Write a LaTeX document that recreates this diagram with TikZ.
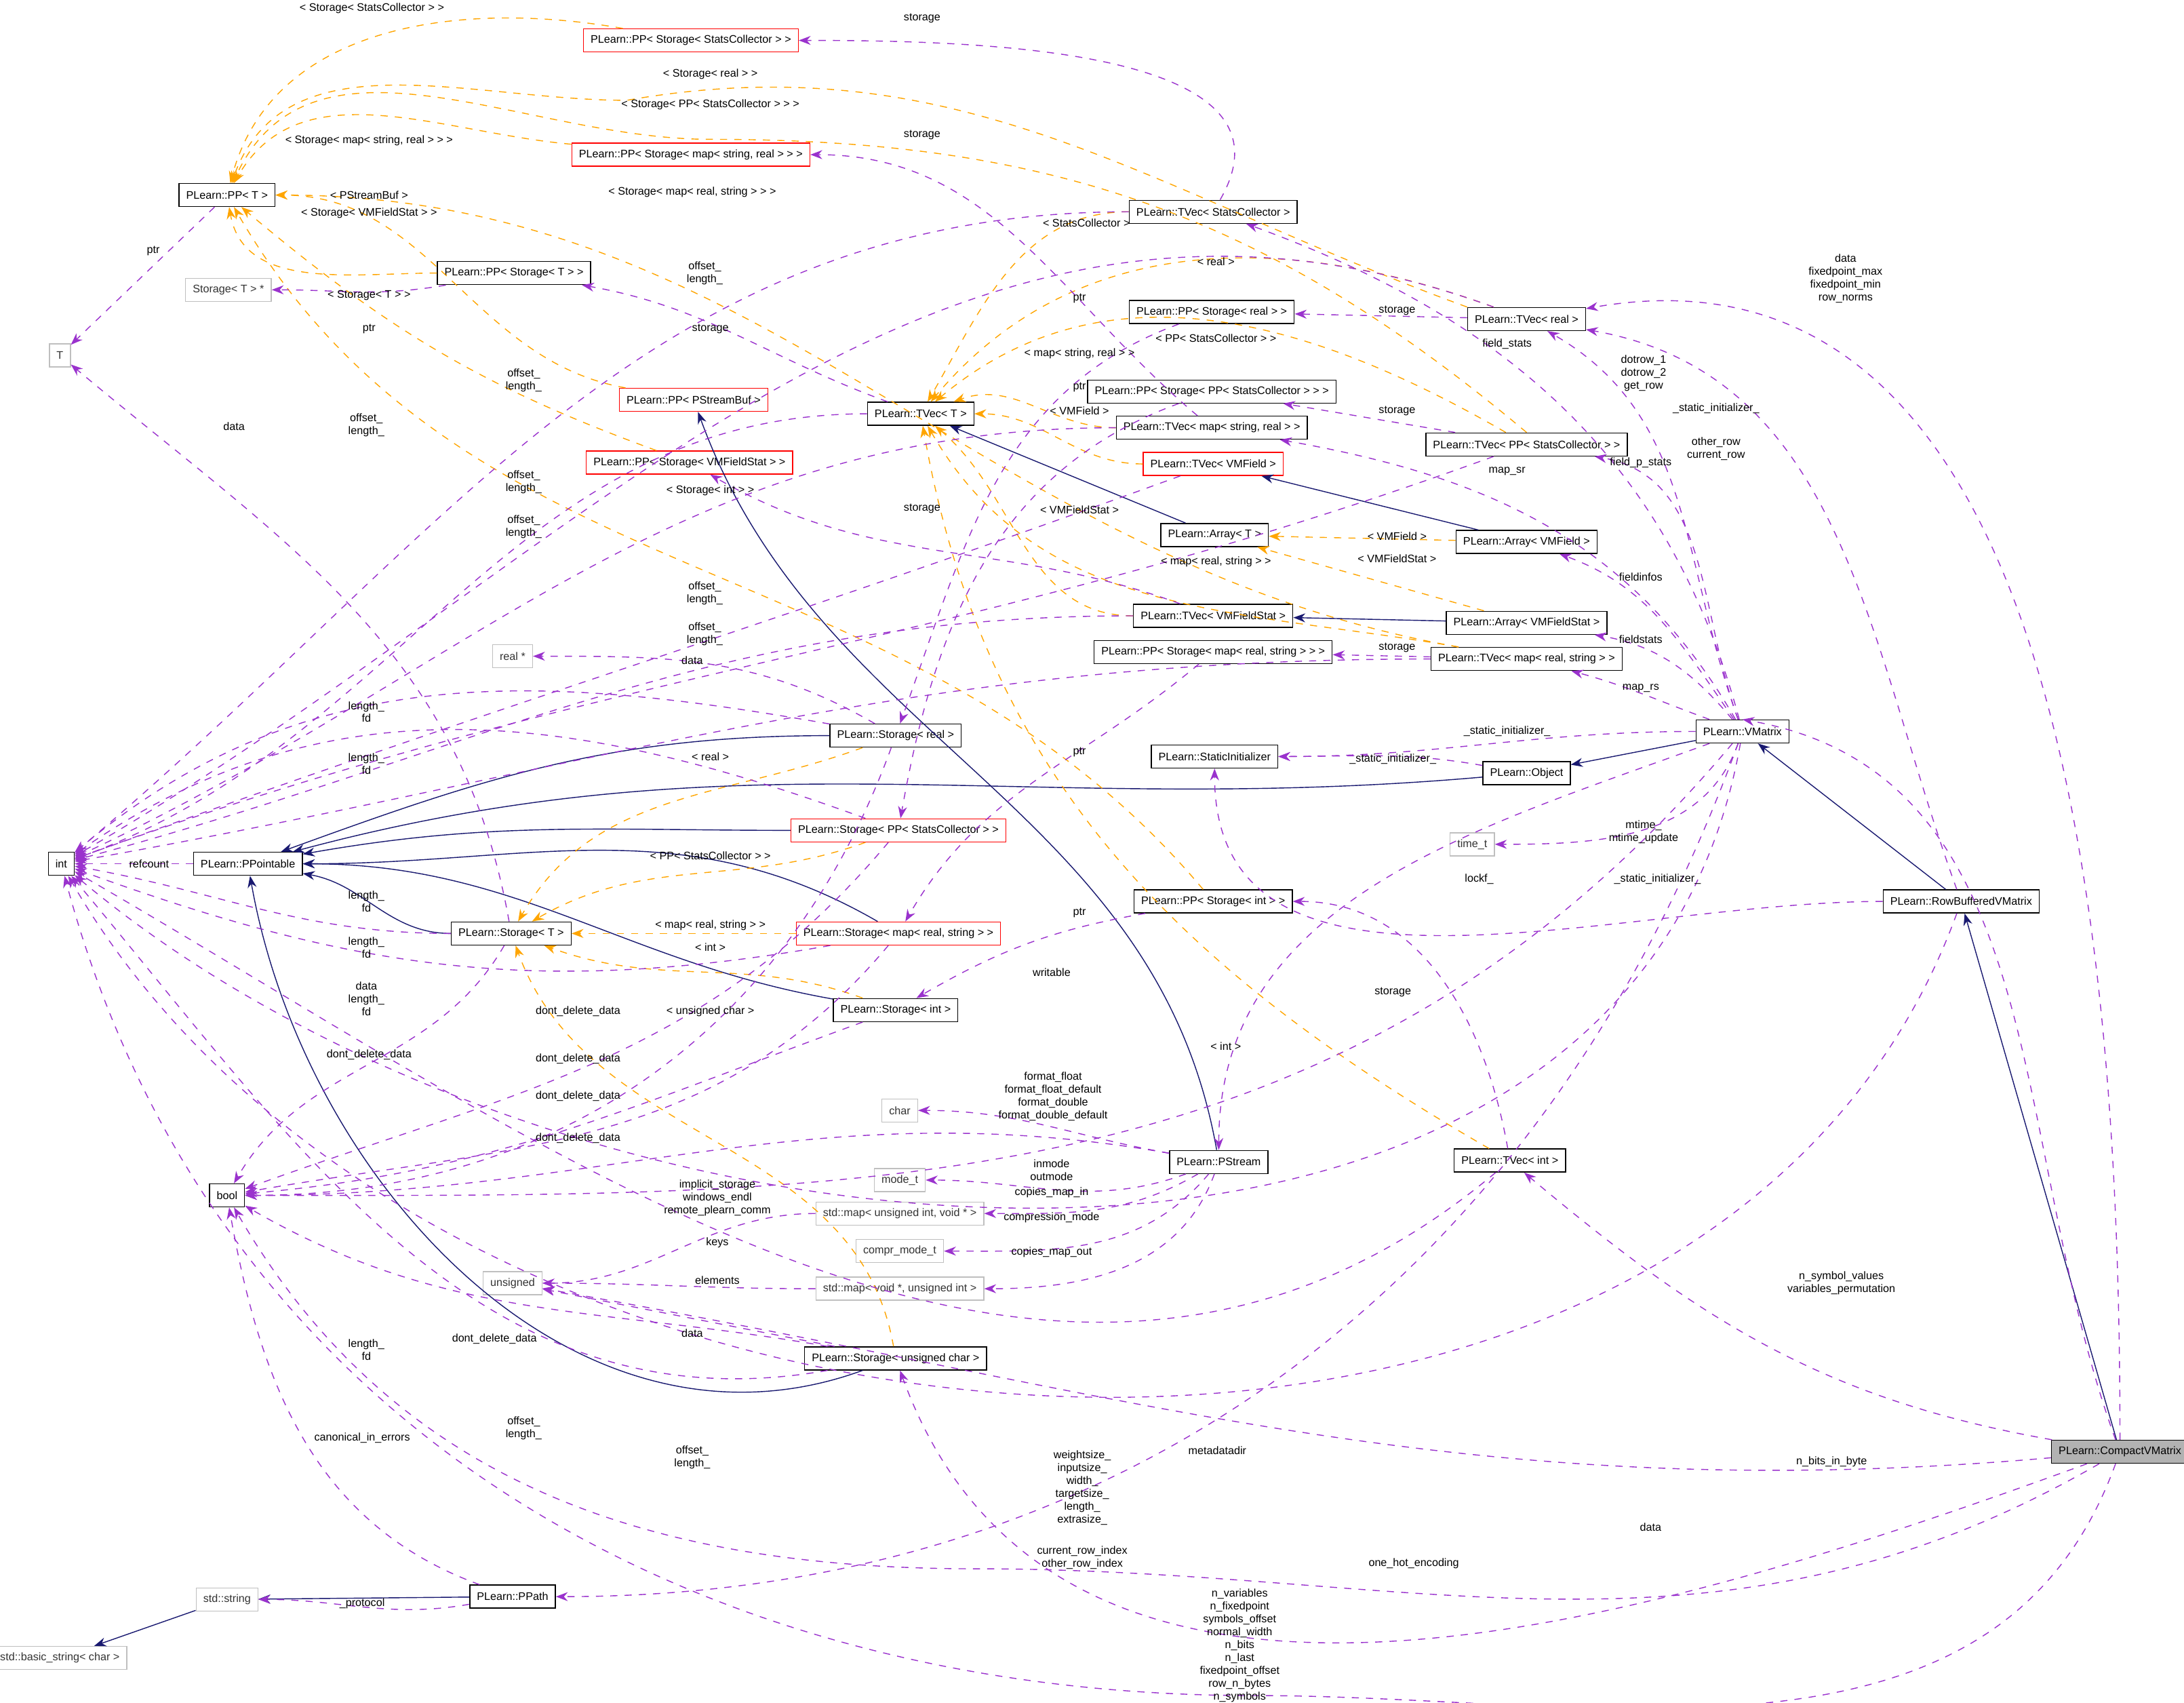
\documentclass[tikz,border=0pt]{standalone}
\usepackage{fontspec}
\setmainfont{Liberation Sans}
\usetikzlibrary{arrows.meta}
\definecolor{usecol}{RGB}{154,50,205}
\definecolor{inhcol}{RGB}{25,25,112}
\definecolor{instcol}{RGB}{255,165,0}
\tikzset{
x=0.02054cm, y=-0.02054cm,
every node/.style={font=\fontsize{4.6}{5.4}\selectfont, inner sep=1.2pt},
cls/.style={draw=black, thin, minimum height=0.34cm, inner xsep=3pt}, % documented classes
red/.style={cls, draw=red},
ext/.style={cls, draw=gray!50, text=black!80},
cur/.style={cls, fill=gray!60},
lbl/.style={align=center},
inh/.style={-{Stealth[length=5pt]}, draw=inhcol}, % inheritance
use/.style={-{Stealth[length=5pt]}, draw=usecol, dashed, thin}, % member usage
inst/.style={-{Stealth[length=5pt]}, draw=instcol, dashed, thin}, % template instance
}
\begin{document}
\begin{tikzpicture}
\useasboundingbox (0,0) rectangle (1568,1222);
% nodes
\node[cls] (ppt) at (163,140) {PLearn::PP< T >};
\node[red] (ppsc) at (496,29) {PLearn::PP< Storage< StatsCollector > >};
\node[red] (ppmsr) at (496,111) {PLearn::PP< Storage< map< string, real > > >};
\node[ext] (t) at (43,255) {T};
\node[ext] (stp) at (164,208) {Storage< T > *};
\node[cls] (ppst) at (369,196) {PLearn::PP< Storage< T > >};
\node[red] (ppbuf) at (498,287) {PLearn::PP< PStreamBuf >};
\node[cls] (tvt) at (661,297) {PLearn::TVec< T >};
\node[red] (ppvfs) at (495,332) {PLearn::PP< Storage< VMFieldStat > >};
\node[cls] (tvsc) at (871,152) {PLearn::TVec< StatsCollector >};
\node[cls] (ppreal) at (870,224) {PLearn::PP< Storage< real > >};
\node[cls] (tvreal) at (1096,229) {PLearn::TVec< real >};
\node[cls] (pppsc) at (870,281) {PLearn::PP< Storage< PP< StatsCollector > > >};
\node[cls] (tvmsr) at (870,307) {PLearn::TVec< map< string, real > >};
\node[red] (tvvf) at (871,333) {PLearn::TVec< VMField >};
\node[cls] (tvpsc) at (1096,319) {PLearn::TVec< PP< StatsCollector > >};
\node[cls] (arrt) at (872,384) {PLearn::Array< T >};
\node[cls] (arrvf) at (1096,389) {PLearn::Array< VMField >};
\node[cls] (tvvfs) at (871,442) {PLearn::TVec< VMFieldStat >};
\node[cls] (arrvfs) at (1096,447) {PLearn::Array< VMFieldStat >};
\node[cls] (ppmrs) at (871,468) {PLearn::PP< Storage< map< real, string > > >};
\node[cls] (tvmrs) at (1096,473) {PLearn::TVec< map< real, string > >};
\node[ext] (realp) at (368,471) {real *};
\node[cls] (streal) at (643,528) {PLearn::Storage< real >};
\node[cls] (vmat) at (1251,525) {PLearn::VMatrix};
\node[cls] (sinit) at (872,543) {PLearn::StaticInitializer};
\node[cls] (obj) at (1096,555) {PLearn::Object};
\node[ext] (timet) at (1057,606) {time\_t};
\node[cls] (int) at (44,620) {int};
\node[cls] (ptbl) at (178,620) {PLearn::PPointable};
\node[red] (stpsc) at (645,596) {PLearn::Storage< PP< StatsCollector > >};
\node[cls] (rbvm) at (1408,647) {PLearn::RowBufferedVMatrix};
\node[cls] (ppint) at (871,647) {PLearn::PP< Storage< int > >};
\node[cls] (stt) at (367,670) {PLearn::Storage< T >};
\node[red] (stmrs) at (645,670) {PLearn::Storage< map< real, string > >};
\node[cls] (stint) at (643,725) {PLearn::Storage< int >};
\node[ext] (char) at (646,797) {char};
\node[cls] (pstr) at (875,834) {PLearn::PStream};
\node[cls] (tvint) at (1084,833) {PLearn::TVec< int >};
\node[cls] (bool) at (163,858) {bool};
\node[ext] (modet) at (646,847) {mode\_t};
\node[ext] (mapin) at (646,871) {std::map< unsigned int, void * >};
\node[ext] (cmt) at (646,898) {compr\_mode\_t};
\node[ext] (unsig) at (368,921) {unsigned};
\node[ext] (mapout) at (646,925) {std::map< void *, unsigned int >};
\node[cls] (stuc) at (643,975) {PLearn::Storage< unsigned char >};
\node[cur] (cvm) at (1522,1042) {PLearn::CompactVMatrix};
\node[cls] (ppath) at (368,1146) {PLearn::PPath};
\node[ext] (str) at (163,1148) {std::string};
\node[ext] (bstr) at (43,1190) {std::basic\_string< char >};

% inheritance
\draw[inh] (streal) to[out=180,in=20] (ptbl);
\draw[inh] (stpsc) to[out=180,in=10] (ptbl);
\draw[inh] (stt) to[out=180,in=-10] (ptbl);
\draw[inh] (stmrs) to[out=150,in=0] (ptbl);
\draw[inh] (stint) to[out=170,in=0] (ptbl);
\draw[inh] (stuc) to[out=200,in=-80] (ptbl);
\draw[inh] (obj) to[out=185,in=15] (ptbl);
\draw[inh] (pstr) to[out=100,in=-70] (ppbuf);
\draw[inh] (arrt) -- (tvt);
\draw[inh] (arrvf) -- (tvvf);
\draw[inh] (arrvfs) -- (tvvfs);
\draw[inh] (vmat) -- (obj);
\draw[inh] (rbvm) -- (vmat);
\draw[inh] (cvm) -- (rbvm);
\draw[inh] (ppath) -- (str);
\draw[inh] (str) -- (bstr);

% template instances
\draw[inst] (ppsc) to[out=170,in=75] (ppt);
\draw[inst] (tvreal.north west) to[out=160,in=10] (450,72) to[out=180,in=70] (ppt);
\draw[inst] (tvpsc.north) to[out=140,in=0] (510,100) to[out=180,in=65] (ppt);
\draw[inst] (ppmsr) to[out=175,in=60] (ppt);
\draw[inst] (ppbuf) to[out=170,in=0] (ppt.east);
\draw[inst] (tvmrs) to[out=170,in=0] (ppt.east);
\draw[inst] (ppvfs) to[out=160,in=-40] (ppt);
\draw[inst] (ppst) to[out=180,in=-80] (ppt);
\draw[inst] (ppint) to[out=130,in=-60] (ppt);
\draw[inst] (tvsc) to[out=180,in=60] (tvt);
\draw[inst] (tvreal) to[out=160,in=50] (tvt);
\draw[inst] (tvpsc) to[out=150,in=40] (tvt);
\draw[inst] (tvmsr) to[out=180,in=20] (tvt);
\draw[inst] (tvvf) to[out=180,in=0] (tvt);
\draw[inst] (tvvfs) to[out=180,in=-40] (tvt);
\draw[inst] (tvmrs) to[out=170,in=-60] (tvt);
\draw[inst] (tvint) to[out=150,in=-80] (tvt);
\draw[inst] (arrvf) -- (arrt);
\draw[inst] (arrvfs) -- (arrt);
\draw[inst] (streal) to[out=200,in=60] (stt);
\draw[inst] (stpsc) to[out=200,in=30] (stt);
\draw[inst] (stmrs) -- (stt);
\draw[inst] (stint) to[out=160,in=-20] (stt);
\draw[inst] (stuc) to[out=100,in=-70] (stt);

% members
\draw[use] (ppt) -- (t);
\draw[use] (ppst) to[out=190,in=0] (stp);
\draw[use] (tvt) to[out=160,in=-10] (ppst);
\draw[use] (tvt) to[out=180,in=20] (int);
\draw[use] (tvsc) to[out=60,in=0] (ppsc);
\draw[use] (tvsc) to[out=180,in=40] (int);
\draw[use] (tvreal) -- (ppreal);
\draw[use] (tvreal) to[out=160,in=30] (int);
\draw[use] (tvmsr) to[out=140,in=0] (ppmsr);
\draw[use] (tvmsr) to[out=180,in=25] (int);
\draw[use] (tvpsc) -- (pppsc);
\draw[use] (tvpsc) to[out=200,in=20] (int);
\draw[use] (tvvf) to[out=200,in=20] (int);
\draw[use] (tvvfs) to[out=160,in=-30] (ppvfs);
\draw[use] (tvvfs) to[out=180,in=15] (int);
\draw[use] (tvmrs) -- (ppmrs);
\draw[use] (tvmrs) to[out=180,in=10] (int);
\draw[use] (ppreal) to[out=200,in=70] (streal);
\draw[use] (pppsc) to[out=200,in=80] (stpsc);
\draw[use] (ppmrs) to[out=220,in=60] (stmrs);
\draw[use] (ppint) to[out=190,in=30] (stint);
\draw[use] (tvint) to[out=100,in=0] (ppint);
\draw[use] (tvint) to[out=220,in=-30] (int);
\draw[use] (stt) to[out=100,in=-40] (t);
\draw[use] (stt) to[out=180,in=-10] (int);
\draw[use] (stt) to[out=240,in=60] (bool);
\draw[use] (streal) to[out=150,in=0] (realp);
\draw[use] (streal) to[out=170,in=40] (int);
\draw[use] (streal) to[out=250,in=0] (bool);
\draw[use] (stpsc) to[out=160,in=35] (int);
\draw[use] (stpsc) to[out=230,in=20] (bool);
\draw[use] (stmrs) to[out=190,in=-20] (int);
\draw[use] (stmrs) to[out=230,in=10] (bool);
\draw[use] (stint) to[out=200,in=5] (bool);
\draw[use] (stuc) -- (unsig);
\draw[use] (stuc) to[out=190,in=-50] (int);
\draw[use] (stuc) to[out=170,in=-30] (bool);
\draw[use] (ptbl) -- (int);
\draw[use] (pstr) to[out=170,in=0] (char);
\draw[use] (pstr) to[out=200,in=0] (modet);
\draw[use] (pstr) to[out=210,in=0] (mapin);
\draw[use] (pstr) to[out=230,in=0] (cmt);
\draw[use] (pstr) to[out=250,in=0] (mapout);
\draw[use] (pstr) to[out=170,in=0] (bool);
\draw[use] (mapin) to[out=180,in=0] (unsig);
\draw[use] (mapout) to[out=180,in=0] (unsig);
\draw[use] (ppath) to[out=190,in=0] (str);
\draw[use] (ppath) to[out=160,in=-80] (bool);
\draw[use] (vmat) to[out=110,in=-30] (tvreal);
\draw[use] (vmat) to[out=105,in=-20] (tvsc);
\draw[use] (vmat) to[out=110,in=-10] (tvpsc);
\draw[use] (vmat) to[out=120,in=-10] (tvmsr);
\draw[use] (vmat) to[out=125,in=-20] (arrvf);
\draw[use] (vmat) to[out=130,in=-10] (arrvfs);
\draw[use] (vmat) to[out=160,in=-15] (tvmrs);
\draw[use] (vmat) to[out=180,in=0] (sinit);
\draw[use] (vmat) to[out=250,in=0] (timet);
\draw[use] (vmat) to[out=200,in=90] (pstr);
\draw[use] (vmat) to[out=250,in=0] (ppath);
\draw[use] (vmat) to[out=260,in=-40] (int);
\draw[use] (vmat) to[out=230,in=0] (bool);
\draw[use] (obj) to[out=170,in=0] (sinit);
\draw[use] (rbvm) to[out=110,in=-10] (tvreal);
\draw[use] (rbvm) to[out=180,in=-90] (sinit);
\draw[use] (rbvm) to[out=250,in=-60] (int);
\draw[use] (cvm) to[out=90,in=10] (tvreal);
\draw[use] (cvm) to[out=110,in=-10] (vmat.north);
\draw[use] (cvm) to[out=170,in=-40] (tvint);
\draw[use] (cvm) to[out=185,in=-10] (unsig);
\draw[use] (cvm) to[out=200,in=-70] (stuc);
\draw[use] (cvm) to[out=210,in=0] (700,1126) to[out=180,in=-60] (bool);
\draw[use] (cvm) to[out=250,in=0] (900,1217) to[out=180,in=-75] (int);

% labels
\node[lbl] at (267,6) {< Storage< StatsCollector > >};
\node[lbl] at (510,53) {< Storage< real > >};
\node[lbl] at (510,75) {< Storage< PP< StatsCollector > > >};
\node[lbl] at (265,101) {< Storage< map< string, real > > >};
\node[lbl] at (265,140) {< PStreamBuf >};
\node[lbl] at (265,153) {< Storage< VMFieldStat > >};
\node[lbl] at (497,138) {< Storage< map< real, string > > >};
\node[lbl] at (265,212) {< Storage< T > >};
\node[lbl] at (780,160) {< StatsCollector >};
\node[lbl] at (873,188) {< real >};
\node[lbl] at (873,243) {< PP< StatsCollector > >};
\node[lbl] at (775,254) {< map< string, real > >};
\node[lbl] at (775,295) {< VMField >};
\node[lbl] at (775,366) {< VMFieldStat >};
\node[lbl] at (510,352) {< Storage< int > >};
\node[lbl] at (1003,385) {< VMField >};
\node[lbl] at (1003,401) {< VMFieldStat >};
\node[lbl] at (873,403) {< map< real, string > >};
\node[lbl] at (510,543) {< real >};
\node[lbl] at (510,614) {< PP< StatsCollector > >};
\node[lbl] at (510,664) {< map< real, string > >};
\node[lbl] at (510,680) {< int >};
\node[lbl] at (510,726) {< unsigned char >};
\node[lbl] at (880,751) {< int >};
\node[lbl] at (662,13) {storage};
\node[lbl] at (662,97) {storage};
\node[lbl] at (510,236) {storage};
\node[lbl] at (662,365) {storage};
\node[lbl] at (1003,223) {storage};
\node[lbl] at (1003,295) {storage};
\node[lbl] at (1003,465) {storage};
\node[lbl] at (1000,712) {storage};
\node[lbl] at (110,180) {ptr};
\node[lbl] at (265,236) {ptr};
\node[lbl] at (775,214) {ptr};
\node[lbl] at (775,278) {ptr};
\node[lbl] at (775,540) {ptr};
\node[lbl] at (775,655) {ptr};
\node[lbl] at (168,306) {data};
\node[lbl] at (497,474) {data};
\node[lbl] at (497,957) {data};
\node[lbl] at (506,196) {offset\_\\length\_};
\node[lbl] at (376,273) {offset\_\\length\_};
\node[lbl] at (263,305) {offset\_\\length\_};
\node[lbl] at (376,346) {offset\_\\length\_};
\node[lbl] at (376,378) {offset\_\\length\_};
\node[lbl] at (506,426) {offset\_\\length\_};
\node[lbl] at (506,455) {offset\_\\length\_};
\node[lbl] at (376,1025) {offset\_\\length\_};
\node[lbl] at (497,1046) {offset\_\\length\_};
\node[lbl] at (263,511) {length\_\\fd};
\node[lbl] at (263,548) {length\_\\fd};
\node[lbl] at (263,647) {length\_\\fd};
\node[lbl] at (263,680) {length\_\\fd};
\node[lbl] at (263,717) {data\\length\_\\fd};
\node[lbl] at (263,969) {length\_\\fd};
\node[lbl] at (107,620) {refcount};
\node[lbl] at (265,757) {dont\_delete\_data};
\node[lbl] at (415,726) {dont\_delete\_data};
\node[lbl] at (415,760) {dont\_delete\_data};
\node[lbl] at (415,787) {dont\_delete\_data};
\node[lbl] at (415,817) {dont\_delete\_data};
\node[lbl] at (355,961) {dont\_delete\_data};
\node[lbl] at (756,787) {format\_float\\format\_float\_default\\format\_double\\format\_double\_default};
\node[lbl] at (755,840) {inmode\\outmode};
\node[lbl] at (755,856) {copies\_map\_in};
\node[lbl] at (755,874) {compression\_mode};
\node[lbl] at (755,899) {copies\_map\_out};
\node[lbl] at (515,860) {implicit\_storage\\windows\_endl\\remote\_plearn\_comm};
\node[lbl] at (515,892) {keys};
\node[lbl] at (515,919) {elements};
\node[lbl] at (260,1151) {\_protocol};
\node[lbl] at (260,1032) {canonical\_in\_errors};
\node[lbl] at (1180,268) {dotrow\_1\\dotrow\_2\\get\_row};
\node[lbl] at (1082,247) {field\_stats};
\node[lbl] at (1232,293) {\_static\_initializer\_};
\node[lbl] at (1232,322) {other\_row\\current\_row};
\node[lbl] at (1178,332) {field\_p\_stats};
\node[lbl] at (1082,338) {map\_sr};
\node[lbl] at (1178,414) {fieldinfos};
\node[lbl] at (1178,459) {fieldstats};
\node[lbl] at (1178,494) {map\_rs};
\node[lbl] at (1082,525) {\_static\_initializer\_};
\node[lbl] at (1000,545) {\_static\_initializer\_};
\node[lbl] at (1180,597) {mtime\_\\mtime\_update};
\node[lbl] at (1062,631) {lockf\_};
\node[lbl] at (1190,631) {\_static\_initializer\_};
\node[lbl] at (755,698) {writable};
\node[lbl] at (874,1041) {metadatadir};
\node[lbl] at (777,1068) {weightsize\_\\inputsize\_\\width\_\\targetsize\_\\length\_\\extrasize\_};
\node[lbl] at (777,1118) {current\_row\_index\\other\_row\_index};
\node[lbl] at (1325,200) {data\\fixedpoint\_max\\fixedpoint\_min\\row\_norms};
\node[lbl] at (1322,921) {n\_symbol\_values\\variables\_permutation};
\node[lbl] at (1315,1049) {n\_bits\_in\_byte};
\node[lbl] at (1185,1096) {data};
\node[lbl] at (1015,1122) {one\_hot\_encoding};
\node[lbl] at (890,1181) {n\_variables\\n\_fixedpoint\\symbols\_offset\\normal\_width\\n\_bits\\n\_last\\fixedpoint\_offset\\row\_n\_bytes\\n\_symbols};
\end{tikzpicture}
\end{document}
